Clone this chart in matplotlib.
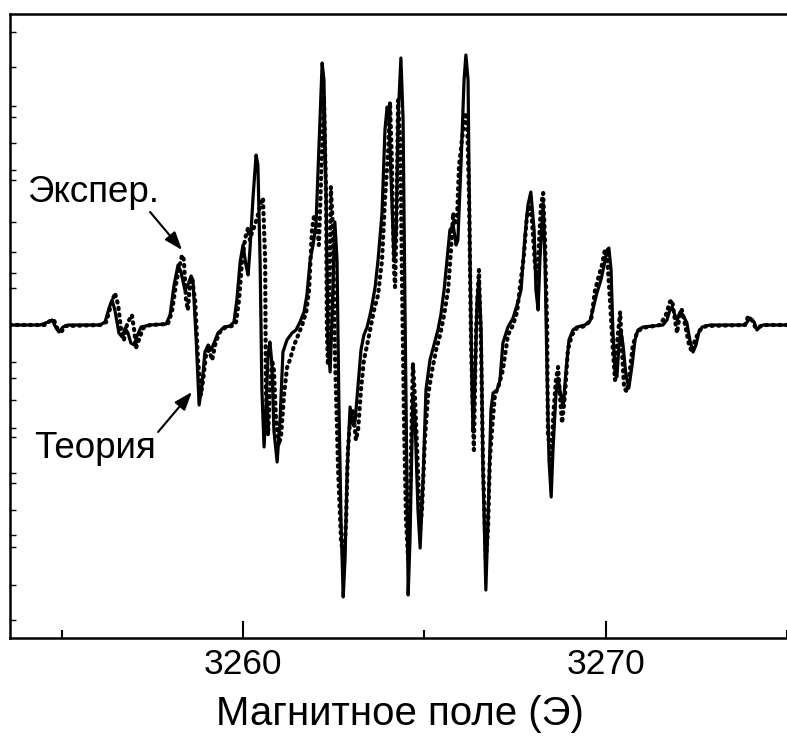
import matplotlib
matplotlib.use("Agg")
import matplotlib.pyplot as plt

plt.rcParams['font.family'] = ['Liberation Sans', 'DejaVu Sans']

# theory (solid) - field in Oe, intensity in arb. units
field_th = [
    3253.58, 3254.41, 3254.63, 3254.74, 3254.85, 3254.93, 3255.04, 3255.18,
    3256.06, 3256.20, 3256.31, 3256.39, 3256.47, 3256.58, 3256.67, 3256.75, 3256.83, 3256.91, 3257.00, 3257.08, 3257.19, 3257.44,
    3257.88, 3257.99, 3258.10, 3258.21, 3258.29, 3258.40, 3258.48, 3258.57, 3258.62, 3258.71, 3258.79, 3258.87, 3258.95, 3259.04, 3259.12, 3259.20, 3259.31, 3259.48, 3259.64,
    3259.75, 3259.83, 3259.92, 3260.00, 3260.08, 3260.14, 3260.19, 3260.28, 3260.36, 3260.41, 3260.47, 3260.52, 3260.58, 3260.63, 3260.69, 3260.74, 3260.80, 3260.85, 3260.94, 3261.02, 3261.10, 3261.21, 3261.35, 3261.46,
    3261.57, 3261.68, 3261.76, 3261.85, 3261.93, 3262.01, 3262.09, 3262.18, 3262.23, 3262.29, 3262.34, 3262.40, 3262.45, 3262.53, 3262.59, 3262.64, 3262.70, 3262.76, 3262.81, 3262.87, 3262.95, 3263.03, 3263.09, 3263.17, 3263.25, 3263.33, 3263.42,
    3263.53, 3263.64, 3263.72, 3263.83, 3263.91, 3263.97, 3264.02, 3264.08, 3264.16, 3264.22, 3264.27, 3264.35, 3264.41, 3264.46, 3264.52, 3264.55, 3264.60, 3264.68, 3264.74, 3264.82, 3264.88, 3264.96, 3265.04, 3265.15, 3265.26, 3265.37, 3265.45,
    3265.54, 3265.62, 3265.70, 3265.79, 3265.87, 3265.92, 3266.01, 3266.09, 3266.14, 3266.20, 3266.25, 3266.31, 3266.34, 3266.39, 3266.45, 3266.50, 3266.56, 3266.61, 3266.69, 3266.75, 3266.83, 3266.89, 3267.00, 3267.08, 3267.16, 3267.30,
    3267.44, 3267.55, 3267.66, 3267.77, 3267.85, 3267.93, 3268.02, 3268.07, 3268.13, 3268.18, 3268.27, 3268.32, 3268.38, 3268.43, 3268.49, 3268.54, 3268.62, 3268.68, 3268.73, 3268.82, 3268.90, 3268.98, 3269.09, 3269.20,
    3269.42, 3269.56, 3269.67, 3269.75, 3269.86, 3269.95, 3270.03, 3270.08, 3270.14, 3270.19, 3270.25, 3270.30, 3270.36, 3270.41, 3270.47, 3270.55, 3270.63, 3270.72, 3270.80, 3270.88, 3271.02,
    3271.57, 3271.68, 3271.76, 3271.82, 3271.90, 3271.96, 3272.04, 3272.12, 3272.23, 3272.31, 3272.40, 3272.48, 3272.56, 3272.65, 3272.87,
    3273.83, 3273.97, 3274.08, 3274.16, 3274.24, 3274.33, 3275.07]
signal_th = [
    0, 0, 3, 5, -3, -7, -2, 0,
    0, 3, 17, 25, 15, -8, -12, -3, -8, -18, -20, -11, -2, 0,
    1, 10, 40, 60, 53, 35, 40, 49, 45, -15, -80, -60, -27, -20, -25, -18, -8, -2, -1,
    3, 25, 63, 80, 60, 50, 75, 130, 170, 160, 65, -65, -122, -85, -30, -17, -40, -105, -137, -95, -27, -15, -8, -5,
    3, 13, 30, 65, 80, 100, 175, 262, 245, 125, -15, -47, 5, 103, 65, -75, -195, -272, -235, -145, -82, -100, -95, -60, -25, -10, -2,
    15, 38, 65, 112, 195, 218, 210, 145, 65, 95, 205, 267, 205, 25, -175, -270, -215, -70, -95, -185, -223, -155, -65, -35, -20, -5, 10,
    35, 65, 95, 100, 80, 85, 165, 245, 270, 245, 75, -65, -107, -55, 25, 45, -5, -145, -265, -195, -85, -68, -65, -55, -18, -2,
    7, 20, 35, 90, 120, 133, 95, 35, 15, 65, 122, 65, -55, -135, -172, -125, -70, -53, -65, -82, -45, -15, -5, -2,
    0, 4, 20, 32, 45, 60, 75, 77, 55, -5, -45, -52, -20, -5, -20, -50, -63, -40, -15, -5, -2,
    0, 5, 15, 18, 10, 5, 13, 10, 2, -15, -27, -20, -7, -2, 0,
    0, 7, 3, -5, -2, 0, 0]

# experiment (dotted)
field_exp = [
    3253.58, 3254.55, 3254.68, 3254.79, 3254.90, 3255.01, 3255.12,
    3256.06, 3256.23, 3256.34, 3256.47, 3256.56, 3256.64, 3256.72, 3256.80, 3256.89, 3256.94, 3257.00, 3257.05, 3257.13, 3257.25, 3257.44,
    3257.93, 3258.04, 3258.15, 3258.24, 3258.32, 3258.37, 3258.43, 3258.48, 3258.54, 3258.59, 3258.68, 3258.76, 3258.84, 3258.90, 3258.98, 3259.06, 3259.15, 3259.23, 3259.34, 3259.53, 3259.70,
    3259.81, 3259.89, 3259.97, 3260.06, 3260.14, 3260.19, 3260.25, 3260.33, 3260.41, 3260.50, 3260.55, 3260.61, 3260.63, 3260.69, 3260.74, 3260.80, 3260.85, 3260.91, 3260.99, 3261.05, 3261.13, 3261.21, 3261.29, 3261.41, 3261.52,
    3261.63, 3261.74, 3261.82, 3261.90, 3261.96, 3262.04, 3262.09, 3262.15, 3262.23, 3262.29, 3262.31, 3262.34, 3262.40, 3262.42, 3262.48, 3262.53, 3262.62, 3262.70, 3262.78, 3262.84, 3262.89, 3262.95, 3263.03, 3263.11, 3263.17, 3263.25, 3263.33, 3263.42, 3263.50,
    3263.61, 3263.72, 3263.83, 3263.91, 3264.00, 3264.05, 3264.10, 3264.16, 3264.19, 3264.24, 3264.27, 3264.33, 3264.38, 3264.44, 3264.49, 3264.55, 3264.60, 3264.66, 3264.68, 3264.74, 3264.82, 3264.88, 3264.93, 3265.01, 3265.10, 3265.21, 3265.32, 3265.43,
    3265.54, 3265.65, 3265.73, 3265.79, 3265.84, 3265.90, 3265.95, 3266.03, 3266.12, 3266.17, 3266.23, 3266.28, 3266.34, 3266.36, 3266.42, 3266.47, 3266.50, 3266.56, 3266.61, 3266.69, 3266.75, 3266.80, 3266.86, 3266.94, 3267.05, 3267.16, 3267.30,
    3267.44, 3267.55, 3267.63, 3267.74, 3267.82, 3267.91, 3267.96, 3268.04, 3268.10, 3268.15, 3268.21, 3268.27, 3268.32, 3268.38, 3268.40, 3268.49, 3268.54, 3268.62, 3268.68, 3268.73, 3268.79, 3268.87, 3268.95, 3269.06, 3269.20,
    3269.42, 3269.59, 3269.70, 3269.81, 3269.89, 3269.97, 3270.03, 3270.11, 3270.19, 3270.25, 3270.30, 3270.39, 3270.44, 3270.50, 3270.58, 3270.66, 3270.74, 3270.85, 3270.99,
    3271.49, 3271.65, 3271.76, 3271.82, 3271.90, 3271.96, 3272.04, 3272.09, 3272.18, 3272.29, 3272.37, 3272.45, 3272.59, 3272.76,
    3273.83, 3273.91, 3274.02, 3274.11, 3274.19, 3274.30, 3275.07]
signal_exp = [
    0, 0, 4, 5, -5, -6, -1,
    0, 3, 17, 32, 20, -5, -15, 0, 7, 10, -5, -23, -15, -3, 0,
    1, 13, 40, 57, 70, 65, 25, 15, 40, 47, 25, -35, -70, -55, -30, -25, -35, -20, -8, -2, -1,
    3, 25, 63, 87, 97, 85, 93, 100, 110, 123, 127, 65, -65, -110, -65, -35, -45, -95, -120, -110, -70, -43, -35, -20, -10,
    0, 13, 35, 95, 110, 100, 80, 145, 228, 125, -5, -40, 75, 138, 95, -25, -145, -215, -235, -195, -125, -95, -85, -115, -105, -65, -35, -20, -5,
    15, 30, 65, 125, 175, 223, 165, 55, 38, 125, 225, 185, 45, -105, -195, -235, -175, -75, -38, -75, -145, -205, -185, -115, -70, -45, -25, -10,
    10, 35, 75, 112, 100, 110, 158, 185, 210, 212, 125, -15, -95, -125, -5, 35, 55, -25, -135, -235, -205, -135, -105, -70, -60, -45, -10,
    0, 13, 38, 70, 108, 120, 105, 62, 45, 80, 120, 132, 85, -5, -108, -135, -95, -55, -42, -70, -98, -70, -25, -10, -3,
    -1, 5, 35, 50, 60, 75, 70, 25, -25, -55, -20, 13, -25, -63, -67, -45, -20, -8, -3,
    0, 10, 23, 25, 5, -8, 13, 15, 0, -20, -27, -15, -5, -1,
    0, 8, 5, -2, -3, 0, 0]

x_major = [3260, 3270]
x_minor = [3255, 3265, 3275]
y_ticks = [293, 258, 219, 208, 182, 155, 145, 103, 73, 52, 37,
           -37, -53, -75, -103, -112, -148, -158, -185, -210, -222, -260, -295]

fig = plt.figure(figsize=(7.87, 7.47), dpi=100)
ax = fig.add_axes([10 / 787, 109 / 747, 780 / 787, 624 / 747])

ax.plot(field_th, signal_th, color='black', lw=2.3, solid_joinstyle='round')
ax.plot(field_exp, signal_exp, color='black', lw=3.0,
        linestyle=(0, (0.3, 1.3)), dash_capstyle='round')

ax.set_xlim(3253.58, 3275.07)
ax.set_ylim(-313, 311)

for s in ['left', 'top', 'bottom']:
    ax.spines[s].set_linewidth(1.8)
ax.spines['right'].set_visible(False)

ax.set_xticks(x_major)
ax.set_xticks(x_minor, minor=True)
ax.set_xticklabels(['3260', '3270'])
ax.tick_params(axis='x', which='major', direction='in', length=12, width=1.5,
               labelsize=25.5, pad=7)
ax.tick_params(axis='x', which='minor', direction='in', length=6, width=1.5)
ax.set_yticks(y_ticks)
ax.tick_params(axis='y', direction='in', length=4, width=1, labelleft=False)

ax.set_xlabel('Магнитное поле (Э)', fontsize=29, labelpad=10)

ax.text(3254.05, 132, 'Экспер.', fontsize=26.5, ha='left', va='center')
ax.text(3254.25, -124, 'Теория', fontsize=26.5, ha='left', va='center')
arrow = dict(arrowstyle='-|>,head_length=1.1,head_width=0.4', color='black', lw=1.5,
             shrinkA=0, shrinkB=0)
ax.annotate('', xy=(3258.32, 75), xytext=(3257.44, 113), arrowprops=arrow)
ax.annotate('', xy=(3258.59, -67), xytext=(3257.66, -107), arrowprops=arrow)

fig.savefig('out.png', dpi=100)
